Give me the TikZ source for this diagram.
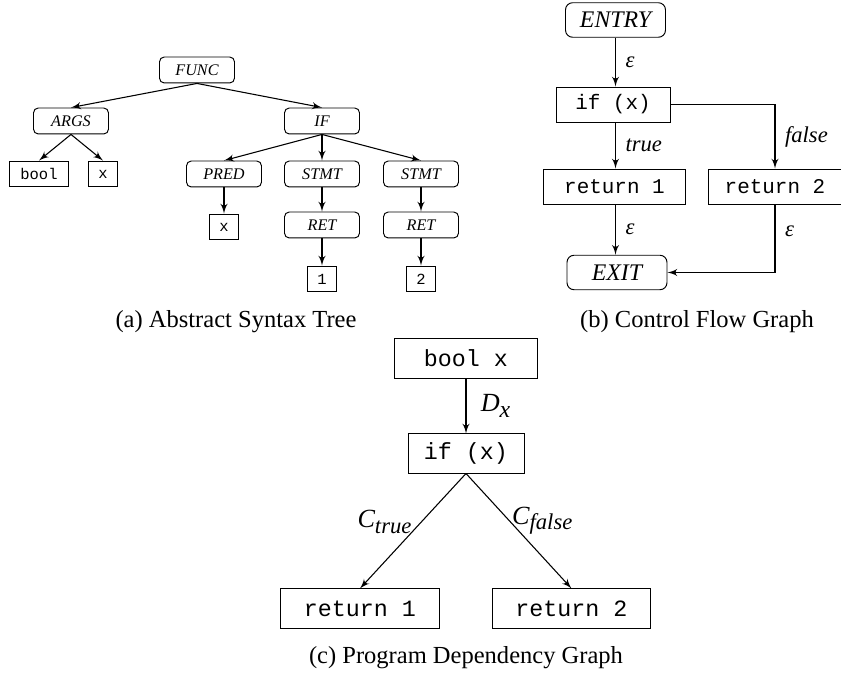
\documentclass[tikz,border=0pt]{standalone}
\usepackage{fontspec}
\setmainfont{Liberation Serif}
\setmonofont{Liberation Mono}
\usetikzlibrary{arrows, positioning}

\begin{document}
\begin{tikzpicture}[x=0.42pt, y=-0.42pt]
		\tikzset{syn/.style = {shape=rectangle, rounded corners=2pt, draw, inner sep=0pt, minimum width=31.5pt, minimum height=10.9pt, font=\fontsize{6.8}{8}\selectfont\itshape}}
		\tikzset{leaf/.style = {shape=rectangle, draw, inner sep=0pt, minimum height=10.9pt, font=\fontsize{6.5}{8}\selectfont\ttfamily}}
		\tikzset{term/.style = {shape=rectangle, rounded corners=3pt, draw, inner sep=0pt, minimum width=42pt, minimum height=14.5pt, font=\fontsize{10}{12}\selectfont\itshape}}
		\tikzset{stmt/.style = {shape=rectangle, draw, inner sep=0pt, minimum height=14.7pt, font=\fontsize{8.8}{11}\selectfont\ttfamily}}
		\tikzset{dep/.style = {shape=rectangle, draw, inner sep=0pt, minimum height=16.4pt, font=\fontsize{9.8}{12}\selectfont\ttfamily}}
		\tikzset{link/.style = {->, > = latex', line width=0.45pt}}
		\tikzset{lbl/.style = {inner sep=1pt, font=\fontsize{9.5}{11}\selectfont\itshape}}
		\tikzset{caption/.style = {font=\fontsize{10.3}{12}\selectfont}}

		\useasboundingbox (0,0) rectangle (841,679);

		% (a) abstract syntax tree
		\node[syn] (func) at (197,70) {FUNC};
		\node[syn] (args) at (71,121) {ARGS};
		\node[syn] (if) at (322,121) {IF};
		\node[leaf, minimum width=24.8pt] (bool) at (39,174) {bool};
		\node[leaf, minimum width=12.2pt] (argx) at (103,174) {x};
		\node[syn] (pred) at (224,174) {PRED};
		\node[syn] (stmta) at (322,174) {STMT};
		\node[syn] (stmtb) at (421,174) {STMT};
		\node[leaf, minimum width=12.2pt] (predx) at (224,227) {x};
		\node[syn] (reta) at (322,225) {RET};
		\node[syn] (retb) at (421,225) {RET};
		\node[leaf, minimum width=12.2pt] (one) at (322,279) {1};
		\node[leaf, minimum width=12.2pt] (two) at (421,279) {2};

		\draw[link] (func.south) -- (args.north);
		\draw[link] (func.south) -- (if.north);
		\draw[link] (args.south) -- (bool.north);
		\draw[link] (args.south) -- (argx.north);
		\draw[link] (if.south) -- (pred.north);
		\draw[link] (if.south) -- (stmta.north);
		\draw[link] (if.south) -- (stmtb.north);
		\draw[link] (pred) -- (predx);
		\draw[link] (stmta) -- (reta);
		\draw[link] (stmtb) -- (retb);
		\draw[link] (reta) -- (one);
		\draw[link] (retb) -- (two);

		\node[caption] (capa) at (236,322) {(a) Abstract Syntax Tree};

		% (b) control flow graph
		\node[term] (entry) at (615.5,20) {ENTRY};
		\node[stmt, minimum width=47.9pt] (cif) at (613,104.5) {if (x)};
		\node[stmt, minimum width=60pt] (cra) at (614.5,186.5) {return 1};
		\node[stmt, minimum width=55.9pt] (crb) at (775,186.5) {return 2};
		\node[term] (exit) at (617,272.5) {EXIT};

		\draw[link] (entry) -- node[lbl, midway, right=3pt] {ε} (entry |- cif.north);
		\draw[link] (cif.south -| entry) -- node[lbl, midway, right=3pt] {true} (entry |- cra.north);
		\draw[link] (cif.east) -| node[lbl, pos=0.75, right=3pt] {false} (crb.north);
		\draw[link] (cra.south -| entry) -- node[lbl, midway, right=3pt] {ε} (entry |- exit.north);
		\draw[link] (crb.south) |- node[lbl, pos=0.2, right=3pt] {ε} (exit.east);

		\node[caption] (capb) at (697,322) {(b) Control Flow Graph};

		% (c) program dependency graph
		\node[dep, minimum width=60pt] (decl) at (466,358.5) {bool x};
		\node[dep, minimum width=48.7pt] (pif) at (466,453.5) {if (x)};
		\node[dep, minimum width=66.4pt] (pra) at (360,608.5) {return 1};
		\node[dep, minimum width=66.4pt] (prb) at (571.5,608.5) {return 2};

		\draw[link] (decl) -- node[midway, right=5pt, inner sep=1pt, font=\fontsize{11}{13}\selectfont\itshape] {D\raisebox{-0.45ex}{\fontsize{10}{12}\selectfont x}} (pif);
		\draw[link] (pif.south) -- node[pos=0.42, left=4pt, inner sep=0pt, font=\fontsize{11}{13}\selectfont\itshape] {C\raisebox{-0.45ex}{\fontsize{9.5}{12}\selectfont true}} (pra.north);
		\draw[link] (pif.south) -- node[pos=0.41, right=1pt, inner sep=0pt, font=\fontsize{11}{13}\selectfont\itshape] {C\raisebox{-0.45ex}{\fontsize{9.5}{12}\selectfont false}} (prb.north);

		\node[caption] (capc) at (466,658) {(c) Program Dependency Graph};

	\end{tikzpicture}
\end{document}
